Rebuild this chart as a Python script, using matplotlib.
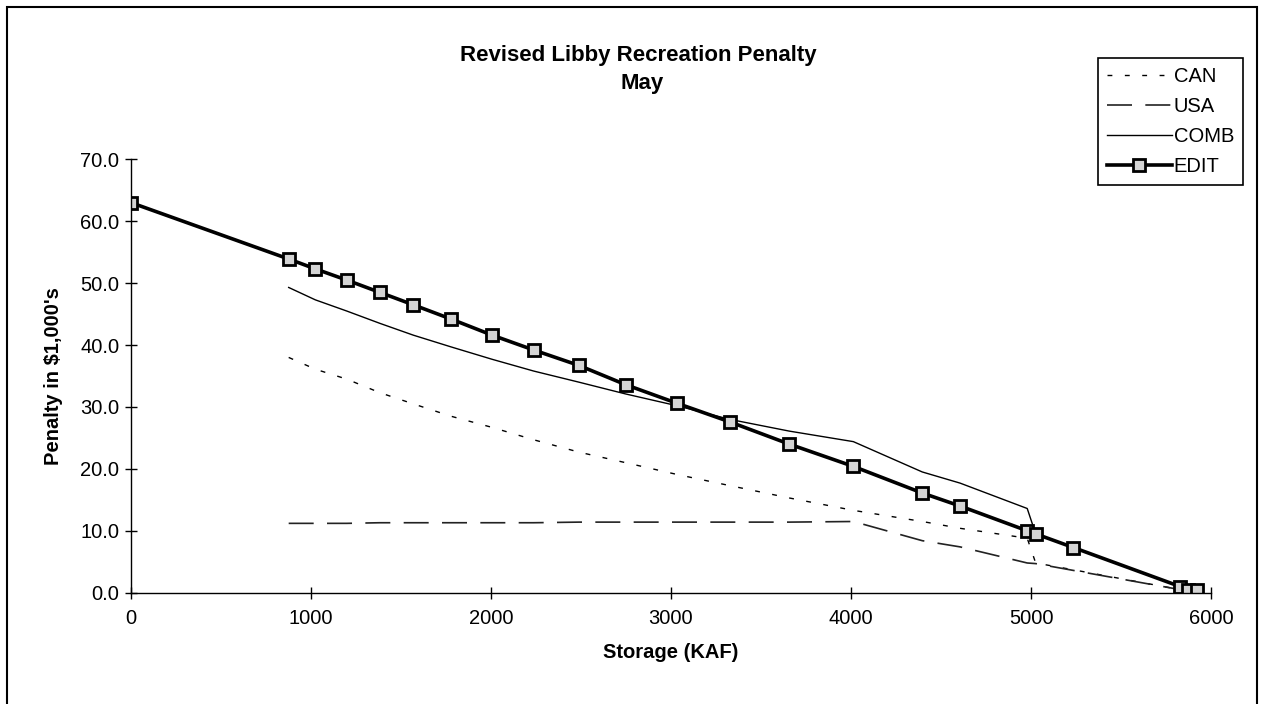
import matplotlib
matplotlib.use('Agg')
import matplotlib.pyplot as plt
from matplotlib.patches import Rectangle

# storage points (KAF), shared by every series
storage = [0, 876, 1024, 1198, 1383, 1568, 1778, 2006, 2237, 2489, 2748, 3033,
           3326, 3657, 4013, 4396, 4606, 4979, 5026, 5235, 5828, 5872, 5920]

# penalty in $1,000's
edit = [63.0, 53.9, 52.3, 50.5, 48.5, 46.5, 44.2, 41.6, 39.2, 36.7, 33.6, 30.6,
        27.6, 24.0, 20.4, 16.1, 14.0, 10.0, 9.5, 7.3, 1.0, 0.4, 0.4]
can = [38.0, 36.1, 34.5, 32.3, 30.5, 28.5, 26.7, 24.7, 22.7, 21.0, 19.1,
       17.3, 15.3, 13.3, 11.5, 10.4, 8.8, 4.8, 3.7, 0.5, 0.3, 0.2]
usa = [11.2, 11.2, 11.2, 11.3, 11.3, 11.3, 11.3, 11.3, 11.4, 11.4, 11.4,
       11.4, 11.4, 11.5, 8.4, 7.4, 4.8, 4.7, 3.6, 0.5, 0.2, 0.1]
comb = [49.3, 47.3, 45.5, 43.5, 41.6, 39.7, 37.7, 35.8, 34.0, 32.1, 30.2,
        28.0, 26.1, 24.4, 19.5, 17.7, 13.6, 9.5, 7.3, 1.0, 0.5, 0.3]

x_ticks = [0, 1000, 2000, 3000, 4000, 5000, 6000]
y_ticks = [0, 10, 20, 30, 40, 50, 60, 70]


def make_plot():
    plt.rcParams['font.family'] = ['Liberation Sans', 'DejaVu Sans']
    fig = plt.figure(figsize=(12.62, 7.04), dpi=100)
    ax = fig.add_axes([131 / 1262, 111.3 / 704, 1080 / 1262, 433.4 / 704])

    x_rest = storage[1:]
    ax.plot(x_rest, can, color='black', lw=1.0, linestyle=(0, (3.5, 9)), label='CAN')
    ax.plot(x_rest, usa, color='#222222', lw=1.2, linestyle=(0, (15, 8)), label='USA')
    ax.plot(x_rest, comb, color='black', lw=1.0, label='COMB')
    ax.plot(storage, edit, color='black', lw=2.6, marker='s', markersize=8.5,
            markerfacecolor='#d4d4d4', markeredgecolor='black', markeredgewidth=2,
            label='EDIT')

    ax.set_xlim(0, 6000)
    ax.set_ylim(0, 70)
    ax.set_xticks(x_ticks)
    ax.set_yticks(y_ticks)
    ax.set_yticklabels(['%.1f' % v for v in y_ticks])
    ax.tick_params(direction='inout', length=9, width=1, labelsize=14.5, colors='black')
    ax.tick_params(axis='x', pad=7)
    ax.tick_params(axis='y', pad=4)
    for side in ['top', 'right']:
        ax.spines[side].set_visible(False)
    for side in ['left', 'bottom']:
        ax.spines[side].set_linewidth(1)

    ax.set_xlabel('Storage (KAF)', fontsize=14.5, fontweight='bold', labelpad=11)
    ax.set_ylabel("Penalty in $1,000's", fontsize=14.5, fontweight='bold', labelpad=12)

    fig.text(0.506, 1 - 55 / 704, 'Revised Libby Recreation Penalty',
             ha='center', va='center', fontsize=16, fontweight='bold')
    fig.text(0.509, 1 - 84 / 704, 'May',
             ha='center', va='center', fontsize=16, fontweight='bold')

    leg = ax.legend(loc='upper left', bbox_to_anchor=(1098 / 1262, 1 - 58 / 704),
                    bbox_transform=fig.transFigure, fontsize=14.5, frameon=True,
                    fancybox=False, framealpha=1, edgecolor='black',
                    handlelength=3.2, handletextpad=0.1, labelspacing=0.55,
                    borderpad=0.45, borderaxespad=0, numpoints=1)
    leg.get_frame().set_linewidth(1.2)

    # outer chart border
    fig.patches.append(Rectangle((7 / 1262, -0.02), 1250 / 1262, 1 - 7 / 704 + 0.02,
                                 transform=fig.transFigure, fill=False,
                                 edgecolor='black', lw=1.5))

    fig.savefig('out.png', dpi=100)


if __name__ == '__main__':
    make_plot()
